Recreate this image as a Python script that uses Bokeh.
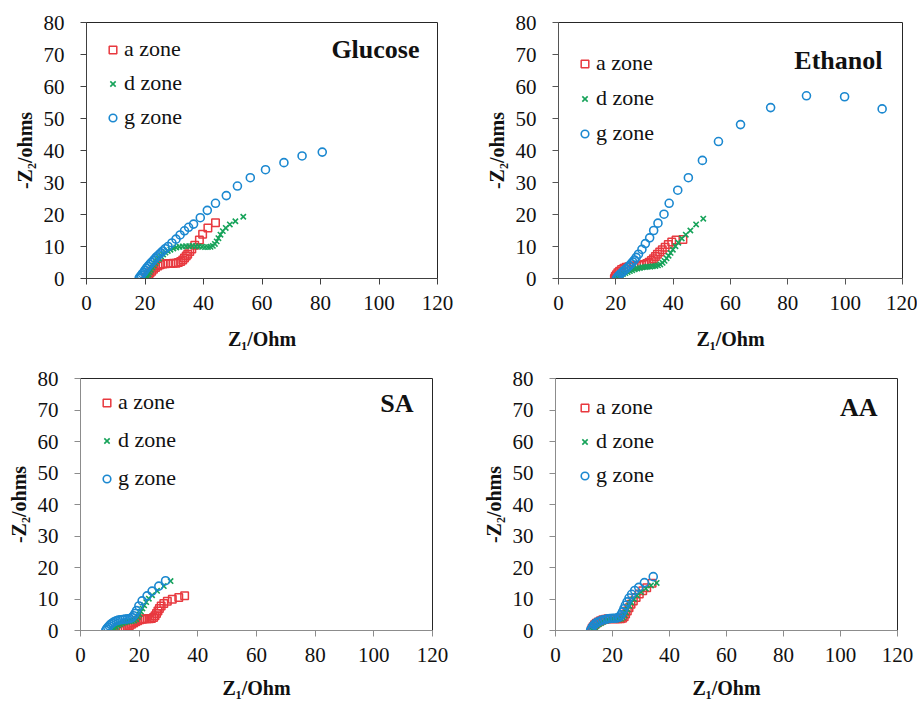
from bokeh.plotting import figure
from bokeh.layouts import column, row
from bokeh.models import Label, Range1d, FixedTicker
from bokeh.embed import file_html
from bokeh.resources import INLINE

# ---------------- data (Z1 / Ohm, -Z2 / ohms) ----------------
zones = ["a zone", "d zone", "g zone"]
x_ticks = [0, 20, 40, 60, 80, 100, 120]
y_ticks = [0, 10, 20, 30, 40, 50, 60, 70, 80]

glucose_a_x = [20.3, 20.7, 21.2, 21.7, 22.3, 22.9, 23.6, 24.4, 25.2, 26.1, 27.0, 27.9, 28.8, 29.7, 30.6, 31.4, 32.2, 32.9, 33.5, 34.1, 34.6, 35.3, 36.0, 37.0, 38.6, 39.7, 41.5, 44.1]
glucose_a_y = [0.0, 0.5, 1.1, 1.7, 2.3, 2.9, 3.4, 3.9, 4.3, 4.5, 4.6, 4.7, 4.7, 4.8, 4.8, 5.0, 5.3, 5.8, 6.4, 7.0, 7.6, 8.4, 9.2, 10.4, 12.0, 13.8, 15.8, 17.4]
glucose_d_x = [20.5, 20.8, 21.2, 21.6, 22.0, 22.5, 23.0, 23.6, 24.2, 24.8, 25.5, 26.2, 27.0, 27.8, 28.7, 29.7, 30.7, 31.8, 32.9, 34.0, 35.1, 36.2, 37.3, 38.4, 39.5, 40.5, 41.5, 42.4, 43.2, 43.9, 44.5, 45.1, 45.8, 46.6, 47.6, 49.0, 50.9, 53.6]
glucose_d_y = [0.0, 0.6, 1.3, 2.0, 2.7, 3.4, 4.1, 4.8, 5.5, 6.2, 6.9, 7.5, 8.1, 8.6, 9.0, 9.4, 9.7, 9.9, 10.0, 10.1, 10.1, 10.2, 10.1, 10.0, 9.9, 9.8, 9.8, 9.9, 10.2, 10.8, 11.6, 12.6, 13.7, 14.8, 15.8, 16.9, 17.9, 19.3]
glucose_g_x = [18.0, 18.3, 18.7, 19.1, 19.6, 20.0, 20.5, 21.0, 21.6, 22.2, 22.8, 23.4, 24.0, 24.7, 25.4, 26.1, 26.9, 27.9, 29.2, 30.6, 32.0, 33.5, 34.9, 36.6, 38.9, 41.3, 44.1, 47.8, 51.6, 56.0, 61.2, 67.5, 73.7, 80.6]
glucose_g_y = [0.1, 0.5, 1.0, 1.5, 2.0, 2.6, 3.2, 3.8, 4.4, 5.0, 5.6, 6.2, 6.8, 7.4, 8.0, 8.6, 9.3, 10.0, 11.1, 12.3, 13.6, 14.9, 16.0, 17.0, 19.0, 21.3, 23.5, 25.9, 28.9, 31.5, 34.0, 36.2, 38.3, 39.5]

ethanol_a_x = [19.5, 19.8, 20.2, 20.7, 21.3, 22.0, 22.8, 23.6, 24.5, 25.4, 26.3, 27.2, 28.1, 29.0, 29.9, 30.8, 31.6, 32.4, 33.1, 33.8, 34.5, 35.3, 36.2, 37.2, 38.3, 39.5, 41.0, 43.4]
ethanol_a_y = [0.0, 0.6, 1.2, 1.8, 2.3, 2.8, 3.2, 3.5, 3.7, 3.8, 3.9, 4.0, 4.1, 4.2, 4.4, 4.7, 5.1, 5.6, 6.2, 6.9, 7.6, 8.3, 9.0, 9.8, 10.6, 11.4, 12.0, 12.2]
ethanol_d_x = [20.0, 20.5, 21.1, 21.8, 22.5, 23.3, 24.1, 24.9, 25.7, 26.6, 27.5, 28.4, 29.3, 30.2, 31.1, 32.0, 32.9, 33.8, 34.7, 35.5, 36.3, 37.0, 37.7, 38.4, 39.1, 39.9, 40.8, 41.8, 43.0, 44.4, 46.0, 48.0, 50.5]
ethanol_d_y = [0.0, 0.4, 0.8, 1.1, 1.4, 1.7, 2.0, 2.3, 2.6, 2.9, 3.1, 3.3, 3.5, 3.6, 3.7, 3.7, 3.8, 3.9, 4.1, 4.4, 4.9, 5.5, 6.3, 7.1, 8.0, 9.0, 10.1, 11.2, 12.5, 13.7, 15.0, 16.9, 18.7]
ethanol_g_x = [20.2, 20.6, 21.1, 21.7, 22.3, 22.9, 23.5, 24.1, 24.7, 25.3, 25.9, 26.5, 27.1, 27.9, 29.1, 30.3, 31.8, 33.2, 34.7, 36.8, 38.6, 41.6, 45.3, 50.2, 55.8, 63.5, 74.0, 86.5, 99.8, 112.9]
ethanol_g_y = [0.0, 0.5, 1.0, 1.5, 2.0, 2.5, 3.0, 3.5, 4.0, 4.6, 5.2, 5.8, 6.6, 7.6, 9.1, 10.9, 12.7, 15.0, 17.3, 20.1, 23.5, 27.6, 31.5, 36.9, 42.8, 48.1, 53.4, 57.1, 56.8, 53.0]

sa_a_x = [13.5, 14.0, 14.6, 15.3, 16.0, 16.7, 17.4, 18.1, 18.8, 19.5, 20.3, 21.1, 21.9, 22.7, 23.5, 24.2, 24.9, 25.4, 25.9, 26.4, 26.9, 27.5, 28.4, 29.6, 31.3, 33.5, 35.5]
sa_a_y = [0.0, 0.3, 0.6, 0.9, 1.2, 1.6, 2.0, 2.4, 2.8, 3.1, 3.4, 3.6, 3.7, 3.7, 3.7, 3.8, 4.1, 4.7, 5.4, 6.2, 7.0, 7.8, 8.6, 9.3, 9.9, 10.5, 11.0]
sa_d_x = [11.0, 11.5, 12.1, 12.8, 13.5, 14.3, 15.1, 15.9, 16.7, 17.5, 18.3, 19.0, 19.6, 20.1, 20.6, 21.1, 21.7, 22.4, 23.3, 24.4, 26.1, 28.4, 30.7]
sa_d_y = [0.0, 0.6, 1.1, 1.6, 2.0, 2.3, 2.6, 2.8, 2.9, 3.0, 3.2, 3.6, 4.3, 5.1, 6.0, 7.0, 8.0, 9.0, 10.1, 11.2, 12.6, 14.1, 15.7]
sa_g_x = [8.6, 8.9, 9.3, 9.8, 10.3, 10.9, 11.5, 12.2, 12.9, 13.6, 14.4, 15.2, 16.0, 16.8, 17.5, 18.1, 18.6, 19.1, 19.9, 21.0, 22.7, 24.4, 26.7, 29.0]
sa_g_y = [0.0, 0.5, 1.0, 1.5, 2.0, 2.4, 2.8, 3.1, 3.3, 3.4, 3.5, 3.6, 3.7, 3.8, 4.1, 4.7, 5.4, 6.3, 7.8, 9.4, 11.0, 12.5, 14.1, 15.8]

aa_a_x = [12.5, 12.8, 13.2, 13.7, 14.3, 15.0, 15.8, 16.6, 17.5, 18.4, 19.3, 20.2, 21.1, 22.0, 22.8, 23.5, 24.1, 24.6, 25.2, 25.8, 26.5, 27.3, 28.3, 29.4, 30.6, 32.0, 33.9]
aa_a_y = [0.0, 0.6, 1.2, 1.8, 2.3, 2.7, 3.1, 3.4, 3.6, 3.7, 3.7, 3.7, 3.7, 3.7, 3.7, 3.9, 4.4, 5.2, 6.2, 7.2, 8.3, 9.4, 10.5, 11.6, 12.6, 13.6, 15.0]
aa_d_x = [13.0, 13.4, 13.9, 14.5, 15.2, 16.0, 16.8, 17.7, 18.6, 19.5, 20.4, 21.3, 22.2, 23.0, 23.7, 24.3, 24.8, 25.3, 25.9, 26.6, 27.5, 28.6, 30.0, 31.7, 33.5, 35.5]
aa_d_y = [0.0, 0.5, 1.0, 1.5, 2.0, 2.4, 2.8, 3.1, 3.3, 3.4, 3.5, 3.5, 3.6, 3.7, 4.1, 4.8, 5.7, 6.7, 7.8, 8.9, 10.0, 11.1, 12.2, 13.3, 14.3, 15.1]
aa_g_x = [12.3, 12.6, 13.0, 13.5, 14.1, 14.8, 15.6, 16.4, 17.3, 18.2, 19.1, 20.0, 20.9, 21.7, 22.4, 23.0, 23.5, 24.0, 24.5, 25.1, 25.8, 26.7, 27.8, 29.2, 31.2, 34.3]
aa_g_y = [0.0, 0.6, 1.2, 1.8, 2.3, 2.7, 3.0, 3.3, 3.5, 3.7, 3.8, 3.9, 3.9, 4.0, 4.3, 5.0, 5.9, 6.9, 8.0, 9.1, 10.3, 11.5, 12.7, 13.7, 15.2, 17.1]

# ---------------- styling ----------------
RED, GREEN, BLUE = "#E8393F", "#17A35A", "#1B88D0"
SERIF = "Liberation Serif"


def make_panel(title, series, fig_w, fig_h, bl, br, bt, bb, axis_color,
               leg_x, leg_top, leg_step, title_right, title_top, xlab_standoff):
    frame_w = fig_w - bl - br
    frame_h = fig_h - bt - bb
    p = figure(width=fig_w, height=fig_h, output_backend="svg", toolbar_location=None,
               min_border_left=bl, min_border_right=br, min_border_top=bt, min_border_bottom=bb,
               x_range=Range1d(0, 120), y_range=Range1d(0, 80))
    p.grid.visible = False
    p.outline_line_color = "#262626"
    p.outline_line_width = 1
    p.background_fill_color = "white"
    p.border_fill_color = "white"

    (ax, ay), (dx, dy), (gx, gy) = series
    p.scatter(ax, ay, marker="square", size=7.5, fill_color=None, line_color=RED,
              line_width=1.5, legend_label=zones[0])
    p.scatter(dx, dy, marker="x", size=7.5, line_color=GREEN, line_width=1.6,
              legend_label=zones[1])
    p.scatter(gx, gy, marker="circle", size=8, fill_color=None, line_color=BLUE,
              line_width=1.6, legend_label=zones[2])

    for axis in (p.xaxis[0], p.yaxis[0]):
        axis.axis_line_color = axis_color
        axis.major_tick_line_color = axis_color
        axis.minor_tick_line_color = None
        axis.major_tick_out = 6
        axis.major_tick_in = 0
        axis.major_label_text_font = SERIF
        axis.major_label_text_font_size = "21px"
        axis.major_label_text_color = "#111111"
        axis.axis_label_text_font = SERIF
        axis.axis_label_text_font_size = "20px"
        axis.axis_label_text_font_style = "bold"
        axis.axis_label_text_color = "#111111"
    p.xaxis.ticker = FixedTicker(ticks=x_ticks)
    p.yaxis.ticker = FixedTicker(ticks=y_ticks)
    p.xaxis.axis_label = "Z\u2081/Ohm"
    p.yaxis.axis_label = "-Z\u2082/ohms"
    p.xaxis.major_label_standoff = 11
    p.xaxis.axis_label_standoff = xlab_standoff
    p.yaxis.major_label_standoff = 16
    p.yaxis.axis_label_standoff = 5

    entry = 26
    lg = p.legend[0]
    lg.label_text_font = SERIF
    lg.label_text_font_size = "22px"
    lg.label_text_color = "#111111"
    lg.border_line_color = None
    lg.background_fill_alpha = 0
    lg.padding = 0
    lg.margin = 0
    lg.glyph_width = 19
    lg.glyph_height = 19
    lg.label_height = entry
    lg.label_standoff = 2
    lg.spacing = leg_step - entry
    leg_h = 3 * entry + 2 * (leg_step - entry)
    top = leg_top - entry / 2
    lg.location = (leg_x, frame_h - top - leg_h)

    p.add_layout(Label(x=frame_w - title_right, y=frame_h - title_top,
                       x_units="screen", y_units="screen", text=title,
                       text_align="right", text_baseline="middle",
                       text_font=SERIF, text_font_style="bold",
                       text_font_size="26px", text_color="#111111"))
    return p


p1 = make_panel("Glucose",
                [(glucose_a_x, glucose_a_y), (glucose_d_x, glucose_d_y), (glucose_g_x, glucose_g_y)],
                462, 362, 86, 25, 22, 84, "#404040", 17, 27, 34, 18, 27, 15)
p2 = make_panel("Ethanol",
                [(ethanol_a_x, ethanol_a_y), (ethanol_d_x, ethanol_d_y), (ethanol_g_x, ethanol_g_y)],
                455, 362, 96, 15, 22, 84, "#555555", 17, 41, 35, 20, 38, 15)
p3 = make_panel("SA",
                [(sa_a_x, sa_a_y), (sa_d_x, sa_d_y), (sa_g_x, sa_g_y)],
                462, 339, 80, 30, 16, 71, "#8c8c8c", 17, 24, 38, 19, 25, 12)
p4 = make_panel("AA",
                [(aa_a_x, aa_a_y), (aa_d_x, aa_d_y), (aa_g_x, aa_g_y)],
                455, 339, 93, 20, 16, 71, "#8c8c8c", 20, 29, 34, 20, 29, 12)

layout = column(row(p1, p2), row(p3, p4))
open("out.html", "w").write(file_html(layout, INLINE))
